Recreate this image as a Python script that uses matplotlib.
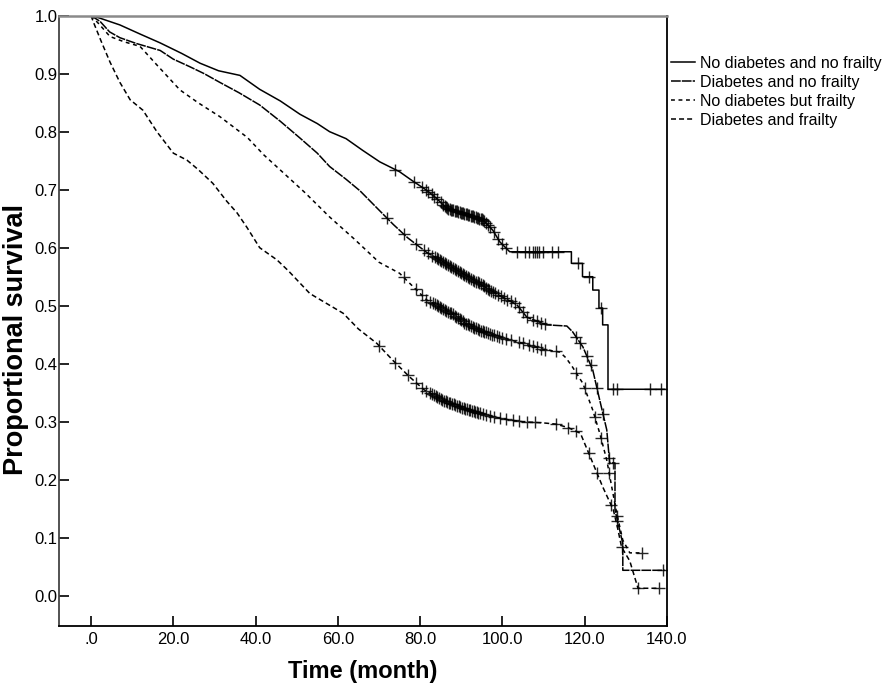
import numpy as np
from matplotlib import pyplot as plt

# Kaplan-Meier curves (time in months, proportion surviving)
t_nd_nf = [0, 2, 7, 12, 16.8, 22, 26.5, 31, 36.2, 41, 46, 50.8, 55, 58, 62, 66, 70.2, 75, 78, 81.6,
           84, 86.5, 89.7, 92.5, 95.3, 97.7, 99.4, 101.8, 116.8, 116.8, 119.5, 119.5, 122, 122,
           123.5, 123.5, 124.4, 124.4, 125.7, 125.7, 139.5]
s_nd_nf = [1.0, 0.996, 0.984, 0.968, 0.953, 0.935, 0.918, 0.905, 0.897, 0.873, 0.853, 0.83, 0.814, 0.80,
           0.788, 0.768, 0.748, 0.731, 0.716, 0.699, 0.685, 0.668, 0.661, 0.655, 0.648, 0.630, 0.61, 0.593,
           0.593, 0.573, 0.573, 0.55, 0.55, 0.527, 0.527, 0.496, 0.496, 0.467, 0.467, 0.356, 0.356]

t_d_nf = [0, 2.2, 4.5, 7, 11, 16.8, 20, 24, 27.5, 31.3, 36, 41, 46, 50.8, 55, 58, 62, 65.4, 70, 73.5,
          77, 81.6, 85, 89.7, 94.5, 97, 100, 103.5, 106, 110.8, 115.7, 117.1, 119.6, 122, 123.7, 125.4,
          126.1, 127.4, 127.4, 129.3, 129.3, 139.5]
s_d_nf = [1.0, 0.99, 0.972, 0.962, 0.952, 0.94, 0.925, 0.912, 0.9, 0.885, 0.867, 0.846, 0.818, 0.789,
          0.763, 0.74, 0.718, 0.698, 0.665, 0.64, 0.617, 0.592, 0.578, 0.558, 0.538, 0.527, 0.515, 0.502,
          0.48, 0.467, 0.465, 0.455, 0.429, 0.389, 0.337, 0.286, 0.229, 0.229, 0.148, 0.09, 0.044, 0.044]

t_nd_f = [0, 2, 4.6, 8, 11.9, 16, 21.6, 26, 31.3, 38, 42, 46, 52, 58, 64, 70, 75, 78, 81.6, 85, 88,
          91, 94.5, 97.5, 100, 105, 110, 114, 115.5, 117.1, 119.6, 122, 123.7, 125.4, 126.6, 127.8,
          129.3, 131, 134]
s_nd_f = [1.0, 0.985, 0.964, 0.955, 0.947, 0.915, 0.872, 0.85, 0.826, 0.79, 0.76, 0.734, 0.695, 0.653,
          0.615, 0.575, 0.556, 0.535, 0.51, 0.497, 0.485, 0.47, 0.458, 0.45, 0.445, 0.435, 0.425, 0.42,
          0.41, 0.394, 0.366, 0.32, 0.28, 0.234, 0.188, 0.143, 0.096, 0.074, 0.074]

t_d_f = [0, 0.5, 2.5, 4.6, 7, 9.5, 12.6, 16, 20, 23.3, 26, 29.6, 33, 35.5, 37.9, 41, 45.2, 48, 53.2,
         57, 61.3, 65, 69.5, 73.5, 77.5, 81, 85.6, 90, 94.5, 100, 105, 110, 113, 116, 119, 122, 124.4,
         127, 128, 129, 131, 133, 138]
s_d_f = [1.0, 0.99, 0.955, 0.92, 0.885, 0.855, 0.837, 0.8, 0.763, 0.751, 0.735, 0.711, 0.68, 0.66,
         0.635, 0.60, 0.579, 0.56, 0.521, 0.505, 0.487, 0.46, 0.435, 0.405, 0.377, 0.355, 0.337, 0.325,
         0.315, 0.305, 0.30, 0.298, 0.296, 0.29, 0.28, 0.229, 0.188, 0.148, 0.118, 0.084, 0.06, 0.013, 0.013]

# censored times
c_nd_nf = [74, 78.5, 80.5, 81.5, 82, 82.8, 83.5, 84.2, 85, 85.6, 86, 86.3, 86.6, 86.9, 87.2, 87.5, 87.8,
           88.1, 88.4, 88.7, 89, 89.3, 89.6, 89.9, 90.2, 90.5, 90.8, 91.1, 91.4, 91.7, 92, 92.3, 92.6,
           92.9, 93.2, 93.5, 93.8, 94.1, 94.4, 94.7, 95, 95.3, 95.6, 96, 96.5, 97, 98, 99, 100, 101,
           103.5, 105.5, 106.5, 107.5, 108, 108.5, 109, 110, 112, 113.5, 118.5, 121, 124, 127, 128,
           136, 138.5]
c_d_nf = [72, 76, 79, 81, 82, 83, 83.6, 84, 84.4, 84.8, 85.2, 85.6, 86, 86.4, 86.8, 87.2, 87.6, 88,
          88.4, 88.8, 89.2, 89.6, 90, 90.4, 90.8, 91.2, 91.6, 92, 92.4, 92.8, 93.2, 93.6, 94, 94.4,
          94.8, 95.2, 95.6, 96, 96.4, 96.8, 97.2, 97.7, 98.3, 99, 99.6, 100.5, 101.2, 102, 103, 104,
          105, 106, 107.5, 108.5, 109.5, 110.5, 118, 119, 120.5, 121.5, 123, 124.5, 126, 127, 128, 139]
c_nd_f = [76, 79, 80.5, 81.5, 82.5, 83.2, 83.6, 84, 84.4, 84.8, 85.2, 85.6, 86, 86.4, 86.8, 87.2,
          87.6, 88, 88.4, 88.8, 89.2, 89.6, 90, 90.4, 90.8, 91.2, 91.6, 92, 92.4, 92.8, 93.2, 93.6,
          94, 94.4, 94.8, 95.2, 95.6, 96, 96.5, 97, 97.5, 98, 98.6, 99.2, 100, 100.8, 102, 104, 105,
          106.5, 107.5, 108.5, 109.5, 110.5, 113, 118, 120, 122.5, 124, 126, 128, 134]
c_d_f = [70, 74, 77, 79, 80.5, 81.5, 82.5, 83, 83.4, 83.8, 84.2, 84.6, 85, 85.4, 85.8, 86.2, 86.6,
         87, 87.4, 87.8, 88.2, 88.6, 89, 89.4, 89.8, 90.2, 90.6, 91, 91.4, 91.8, 92.2, 92.6, 93, 93.4,
         93.8, 94.2, 94.6, 95.2, 96, 97, 98, 99.5, 101, 102.5, 104, 106, 108, 113, 116, 118, 121, 123,
         126.5, 129, 133, 138]

labels = ['No diabetes and no frailty', 'Diabetes and no frailty',
          'No diabetes but frailty', 'Diabetes and frailty']
xticks = [0, 20, 40, 60, 80, 100, 120, 140]
xtick_labels = ['.0', '20.0', '40.0', '60.0', '80.0', '100.0', '120.0', '140.0']
yticks = [0.0, 0.1, 0.2, 0.3, 0.4, 0.5, 0.6, 0.7, 0.8, 0.9, 1.0]

plt.rcParams['font.family'] = ['Liberation Sans', 'DejaVu Sans']
plt.rcParams['lines.scale_dashes'] = False

fig = plt.figure(figsize=(8.86, 6.86), dpi=100)
ax = fig.add_axes([0.0666, 0.0875, 0.686, 0.8897])

curves = [(t_nd_nf, s_nd_nf, c_nd_nf, '-'),
          (t_d_nf, s_d_nf, c_d_nf, (0, (7, 0.8))),
          (t_nd_f, s_nd_f, c_nd_f, (0, (2.8, 2.6))),
          (t_d_f, s_d_f, c_d_f, (0, (3.6, 2.2)))]

for (t, s, c, ls), lab in zip(curves, labels):
    ax.plot(t, s, color='black', linestyle=ls, linewidth=1.1, label=lab)
    cy = np.interp(c, t, s)
    ax.plot(c, cy, '+', color='black', markersize=8, markeredgewidth=1.0, alpha=0.85)

ax.set_xlim(-7.8, 140)
ax.set_ylim(-0.052, 1.0)
ax.set_xticks(xticks)
ax.set_xticklabels(xtick_labels)
ax.set_yticks(yticks)
ax.set_yticklabels(['%.1f' % v for v in yticks])
ax.tick_params(direction='in', length=7, width=1.2, labelsize=12, color='black')
ax.tick_params(axis='y', pad=1)
ax.tick_params(axis='x', pad=4)

for side in ['left', 'right', 'bottom']:
    ax.spines[side].set_linewidth(1.3)
    ax.spines[side].set_color('black')
ax.spines['left'].set_color('#444444')
ax.spines['top'].set_color('#8a8a8a')
ax.spines['top'].set_linewidth(1.8)

ax.set_xlabel('Time (month)', fontsize=17, fontweight='bold', labelpad=10)
ax.set_ylabel('Proportional survival', fontsize=19.5, fontweight='bold')
ax.yaxis.set_label_coords(-0.05, 0.47)

fig.legend(loc='upper left', bbox_to_anchor=(671 / 886, 1 - 56 / 686), frameon=False,
           fontsize=11.5, handlelength=1.5, handletextpad=0.3, labelspacing=0.25, borderpad=0,
           borderaxespad=0)

fig.savefig('out.png', dpi=100)
